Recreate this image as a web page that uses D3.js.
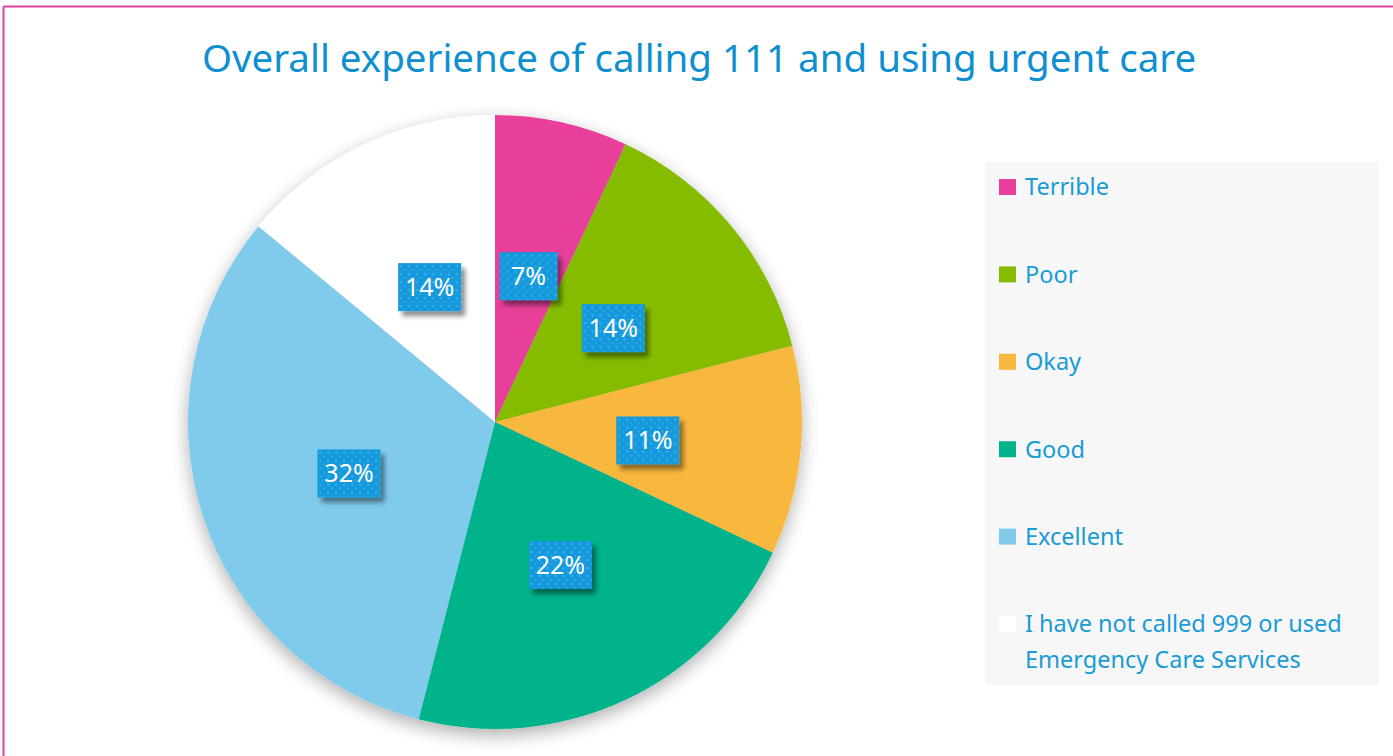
<!DOCTYPE html>
<html>
<head>
<meta charset="utf-8">
<script src="https://cdn.jsdelivr.net/npm/d3@7"></script>
<style>
  html, body { margin: 0; padding: 0; background: #ffffff; }
  svg { display: block; }
</style>
</head>
<body>
<svg id="chart" width="1393" height="756"></svg>
<script>
// Survey responses: overall experience of calling 111 and using urgent care
const categories = ["Terrible", "Poor", "Okay", "Good", "Excellent", "I have not called 999 or used Emergency Care Services"];
const legendLines = [["Terrible"], ["Poor"], ["Okay"], ["Good"], ["Excellent"], ["I have not called 999 or used", "Emergency Care Services"]];
const percentages = [7, 14, 11, 22, 32, 14];
const sliceColors = ["#e8409a", "#86bc00", "#f8b73e", "#00b38a", "#80cbeb", "#ffffff"];

const W = 1393, H = 756;
const svg = d3.select("#chart");
const fontFamily = "'Noto Sans', 'Open Sans', sans-serif";

const defs = svg.append("defs");

// Soft drop shadow under the pie
const pieShadow = defs.append("filter").attr("id", "pieShadow")
  .attr("x", "-20%").attr("y", "-20%").attr("width", "140%").attr("height", "140%");
pieShadow.append("feGaussianBlur").attr("in", "SourceAlpha").attr("stdDeviation", 9).attr("result", "b");
pieShadow.append("feOffset").attr("in", "b").attr("dx", 0).attr("dy", 6).attr("result", "o");
pieShadow.append("feComponentTransfer").attr("in", "o").attr("result", "s")
  .append("feFuncA").attr("type", "linear").attr("slope", 0.32);
const pm = pieShadow.append("feMerge");
pm.append("feMergeNode").attr("in", "s");
pm.append("feMergeNode").attr("in", "SourceGraphic");

// Shadow for the value badges
const badgeShadow = defs.append("filter").attr("id", "badgeShadow")
  .attr("x", "-30%").attr("y", "-30%").attr("width", "170%").attr("height", "170%");
badgeShadow.append("feGaussianBlur").attr("in", "SourceAlpha").attr("stdDeviation", 2.5).attr("result", "b");
badgeShadow.append("feOffset").attr("in", "b").attr("dx", 4).attr("dy", 5).attr("result", "o");
badgeShadow.append("feComponentTransfer").attr("in", "o").attr("result", "s")
  .append("feFuncA").attr("type", "linear").attr("slope", 0.45);
const bm = badgeShadow.append("feMerge");
bm.append("feMergeNode").attr("in", "s");
bm.append("feMergeNode").attr("in", "SourceGraphic");

// Dotted fill for the value badges
const dots = defs.append("pattern").attr("id", "dots")
  .attr("patternUnits", "userSpaceOnUse").attr("width", 8).attr("height", 8);
dots.append("rect").attr("width", 8).attr("height", 8).attr("fill", "#1298da");
dots.append("rect").attr("x", 2).attr("y", 2).attr("width", 2.5).attr("height", 2.5).attr("fill", "#2fb0f0");
dots.append("rect").attr("x", 6).attr("y", 6).attr("width", 2.5).attr("height", 2.5).attr("fill", "#2aa9ea");

// Frame lines
svg.append("line").attr("x1", 3.5).attr("y1", 6.5).attr("x2", W).attr("y2", 6.5)
  .attr("stroke", "#e0409a").attr("stroke-width", 2);
svg.append("line").attr("x1", 3.5).attr("y1", 6.5).attr("x2", 3.5).attr("y2", H)
  .attr("stroke", "#e0409a").attr("stroke-width", 2);

// Title
svg.append("text")
  .attr("x", 699).attr("y", 72)
  .attr("text-anchor", "middle")
  .attr("font-family", fontFamily)
  .attr("font-size", 38.5)
  .attr("fill", "#0e8fd0")
  .text("Overall experience of calling 111 and using urgent care");

// Pie
const cx = 495, cy = 422, R = 307;
const pie = d3.pie().sort(null).value(d => d)(percentages);
const arc = d3.arc().innerRadius(0).outerRadius(R);
const labelArc = d3.arc().innerRadius(0).outerRadius(R);

const g = svg.append("g").attr("transform", `translate(${cx},${cy})`);
g.append("g").attr("filter", "url(#pieShadow)")
  .selectAll("path").data(pie).join("path")
  .attr("d", arc)
  .attr("fill", (d, i) => sliceColors[i]);

// Value badges
const badges = g.selectAll("g.badge").data(pie).join("g")
  .attr("class", "badge")
  .attr("transform", d => {
    const [x, y] = labelArc.centroid(d);
    return `translate(${x},${y + 4})`;
  });
badges.each(function(d) {
  const b = d3.select(this);
  const w = String(d.data).length > 1 ? 63 : 58;
  b.append("rect")
    .attr("x", -w / 2).attr("y", -24).attr("width", w).attr("height", 48)
    .attr("fill", "url(#dots)")
    .attr("filter", "url(#badgeShadow)");
  b.append("text")
    .attr("text-anchor", "middle")
    .attr("dy", "0.36em")
    .attr("font-family", fontFamily)
    .attr("font-size", 25)
    .attr("fill", "#ffffff")
    .text(d.data + "%");
});

// Legend
const legendX = 985, legendY = 162, legendW = 394, legendH = 523;
svg.append("rect").attr("x", legendX).attr("y", legendY)
  .attr("width", legendW).attr("height", legendH).attr("fill", "#f7f7f7");

const itemY = d3.scalePoint().domain(d3.range(categories.length)).range([187, 624]);
const legend = svg.append("g").selectAll("g").data(categories).join("g")
  .attr("transform", (d, i) => `translate(0,${itemY(i)})`);
legend.append("rect")
  .attr("x", 999).attr("y", -8).attr("width", 17).attr("height", 16)
  .attr("fill", (d, i) => sliceColors[i]);
legend.append("text")
  .attr("x", 1025).attr("y", 0)
  .attr("font-family", fontFamily)
  .attr("font-size", 23.5)
  .attr("fill", "#199bd6")
  .each(function(d, i) {
    const t = d3.select(this);
    legendLines[i].forEach((line, k) => {
      t.append("tspan").attr("x", 1025).attr("dy", k === 0 ? "0.36em" : 36).text(line);
    });
  });
</script>
</body>
</html>
